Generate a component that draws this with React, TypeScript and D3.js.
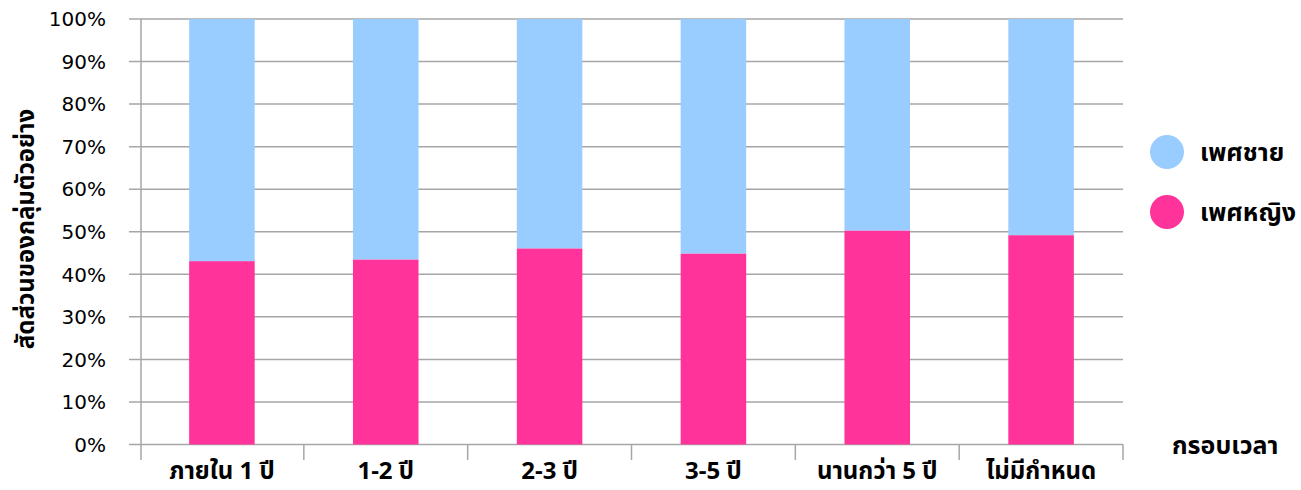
import React from "react";
import * as d3 from "d3";

const categories = ["ภายใน 1 ปี", "1-2 ปี", "2-3 ปี", "3-5 ปี", "นานกว่า 5 ปี", "ไม่มีกำหนด"];
const female = [0.431, 0.435, 0.461, 0.449, 0.503, 0.492];
const male = female.map((f) => 1 - f);
const yTicks = [0, 0.1, 0.2, 0.3, 0.4, 0.5, 0.6, 0.7, 0.8, 0.9, 1.0];
const seriesNames = ["เพศชาย", "เพศหญิง"];
const seriesColors = ["#99CCFF", "#FF3399"];
const yTitle = "สัดส่วนของกลุ่มตัวอย่าง";
const xTitle = "กรอบเวลา";

const W = 1301;
const H = 490;
const left = 140;
const right = 1123;
const top = 19;
const bottom = 444.5;
const font = "Tahoma, 'Noto Sans Thai', 'Noto Sans', 'DejaVu Sans', sans-serif";
const tickFont = "'DejaVu Sans', Verdana, sans-serif";

export default function App() {
  const x = d3.scaleBand<string>().domain(categories).range([left, right]).paddingInner(0.6).paddingOuter(0.3);
  const xb = d3.scaleBand<string>().domain(categories).range([left, right]);
  const y = d3.scaleLinear().domain([0, 1]).range([bottom, top]);
  const stackData = categories.map((c, i) => ({ cat: c, female: female[i], male: male[i] }));
  const stack = d3.stack<any>().keys(["female", "male"])(stackData);
  const gridColor = "#a6a6a6";

  return (
    <svg width={W} height={H} style={{ position: "absolute", left: 0, top: 0 }} fontFamily={font}>
      <rect width={W} height={H} fill="#fff" />
      {yTicks.map((t) => (
        <g key={t}>
          <line x1={129} x2={right} y1={y(t)} y2={y(t)} stroke={gridColor} strokeWidth={1.5} />
          <text x={106} y={y(t)} dy="0.36em" textAnchor="end" fontSize={20} fontFamily={tickFont} fill="#000">
            {d3.format(".0%")(t)}
          </text>
        </g>
      ))}
      <line x1={left + 1} x2={left + 1} y1={top} y2={460} stroke={gridColor} strokeWidth={1.5} />
      {categories.slice(1).map((c) => (
        <line key={c} x1={xb(c)!} x2={xb(c)!} y1={bottom} y2={460} stroke={gridColor} strokeWidth={1.5} />
      ))}
      <line x1={right} x2={right} y1={bottom} y2={460} stroke={gridColor} strokeWidth={1.5} />
      {stack.map((layer, li) => (
        <g key={li} fill={li === 0 ? seriesColors[1] : seriesColors[0]}>
          {layer.map((d: any, i: number) => (
            <rect
              key={i}
              x={x(categories[i])!}
              width={x.bandwidth()}
              y={y(d[1])}
              height={y(d[0]) - y(d[1])}
            />
          ))}
        </g>
      ))}
      {categories.map((c) => (
        <text key={c} x={xb(c)! + xb.bandwidth() / 2} y={479} textAnchor="middle" fontSize={24} fontWeight="bold" fill="#000">
          {c}
        </text>
      ))}
      <text transform={`translate(34,229) rotate(-90)`} textAnchor="middle" fontSize={24} fontWeight="bold" fill="#000">
        {yTitle}
      </text>
      <text x={1172} y={454} fontSize={25} fontWeight="bold" fill="#000">
        {xTitle}
      </text>
      {seriesNames.map((n, i) => (
        <g key={n} transform={`translate(0,${152 + i * 60})`}>
          <circle cx={1167} cy={0} r={17} fill={seriesColors[i]} />
          <text x={1200} y={0} dy="0.35em" fontSize={25} fontWeight="bold" fill="#000">
            {n}
          </text>
        </g>
      ))}
    </svg>
  );
}
